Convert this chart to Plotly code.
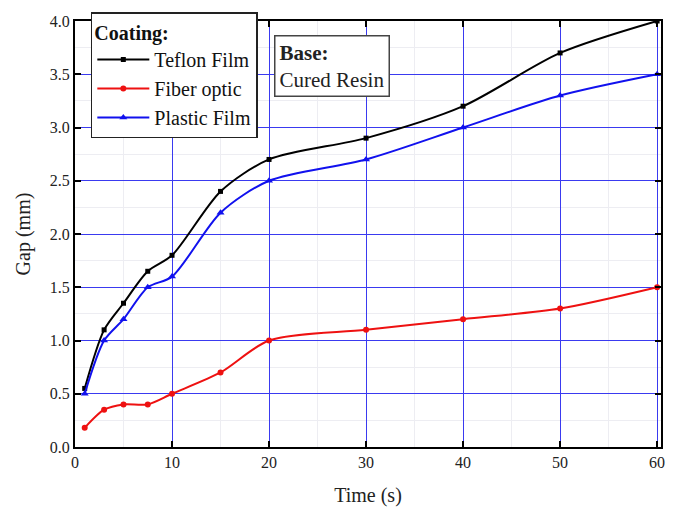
import plotly.graph_objects as go

time_s = [1, 3, 5, 7.5, 10, 15, 20, 30, 40, 50, 60]
teflon_film = [0.55, 1.1, 1.35, 1.65, 1.8, 2.4, 2.7, 2.9, 3.2, 3.7, 4.0]
fiber_optic = [0.18, 0.35, 0.4, 0.4, 0.5, 0.7, 1.0, 1.1, 1.2, 1.3, 1.5]
plastic_film = [0.5, 1.0, 1.2, 1.5, 1.6, 2.2, 2.5, 2.7, 3.0, 3.3, 3.5]

FONT = "Liberation Serif"

fig = go.Figure()
fig.add_trace(go.Scatter(x=time_s, y=teflon_film, name="Teflon Film", mode="lines+markers",
                         line=dict(color="black", width=2, shape="spline", smoothing=0.8),
                         marker=dict(symbol="square", size=5, color="black")))
fig.add_trace(go.Scatter(x=time_s, y=fiber_optic, name="Fiber optic", mode="lines+markers",
                         line=dict(color="#ee1111", width=2, shape="spline", smoothing=0.8),
                         marker=dict(symbol="circle", size=6, color="#ee1111")))
fig.add_trace(go.Scatter(x=time_s, y=plastic_film, name="Plastic Film", mode="lines+markers",
                         line=dict(color="#1111ee", width=2, shape="spline", smoothing=0.8),
                         marker=dict(symbol="triangle-up", size=7, color="#1111ee")))

axis_common = dict(
    showline=True, linecolor="black", linewidth=2, mirror="allticks",
    ticks="inside", ticklen=6, tickwidth=1.5, tickcolor="black",
    showgrid=True, gridcolor="#3a3af0", gridwidth=1, zeroline=False,
    tickfont=dict(family=FONT, size=16, color="#222"),
)

fig.update_xaxes(range=[0, 60.4], dtick=10, tick0=0,
                 title=dict(text="Time (s)", font=dict(family=FONT, size=20, color="#222"), standoff=18),
                 minor=dict(dtick=5, showgrid=True, gridcolor="#ededf2", gridwidth=1),
                 **axis_common)
fig.update_yaxes(range=[0, 4.0], dtick=0.5, tick0=0, tickformat=".1f",
                 title=dict(text="Gap (mm)", font=dict(family=FONT, size=20, color="#222"), standoff=14),
                 minor=dict(dtick=0.25, showgrid=True, gridcolor="#ededf2", gridwidth=1),
                 **axis_common)

fig.update_layout(
    width=676, height=514,
    margin=dict(l=75, r=15, t=12, b=67),
    plot_bgcolor="white", paper_bgcolor="white",
    font=dict(family=FONT, color="#111"),
    legend=dict(
        title=dict(text="<b>Coating:</b>", font=dict(family=FONT, size=20, color="#111")),
        font=dict(family=FONT, size=20, color="#111"),
        x=0.027, y=1.02, xanchor="left", yanchor="top",
        bgcolor="white", bordercolor="#222", borderwidth=1.5,
        itemwidth=52, tracegroupgap=0,
    ),
    annotations=[dict(
        text="<b>Base:</b><br>Cured Resin", xref="paper", yref="paper",
        x=0.34, y=0.968, xanchor="left", yanchor="top", showarrow=False,
        align="left", font=dict(family=FONT, size=21, color="#222"),
        bgcolor="white", bordercolor="#444", borderwidth=1.5, borderpad=4,
    )],
)

fig.write_html("out.html")
